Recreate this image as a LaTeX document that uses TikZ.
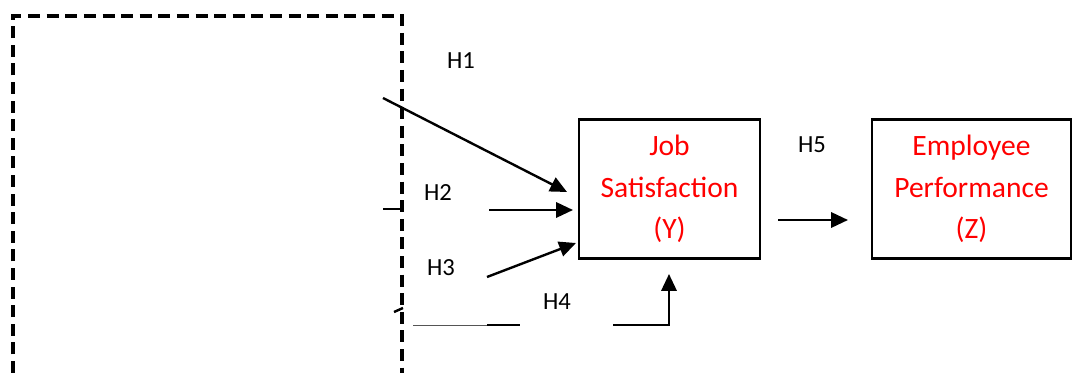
\documentclass[tikz,border=0pt]{standalone}
\usepackage{fontspec}
\setmainfont{Carlito}
\usetikzlibrary{arrows.meta}
\definecolor{mRed}{HTML}{FF0000}
\definecolor{mGrey}{HTML}{555555}
\begin{document}
\begin{tikzpicture}[x=0.025cm, y=-0.025cm, line width=1.7pt,
  varbox/.style={draw, line width=1.6pt, text=mRed, align=center, inner sep=0pt, font=\fontsize{21}{29.5}\selectfont},
  hlab/.style={font=\fontsize{17.5}{20}\selectfont},
  arr/.style={-{Triangle[length=0.42cm, width=0.38cm]}}]
\useasboundingbox (0,0) rectangle (1072,373);
\draw[line width=2.2pt, dash pattern=on 0.3cm off 0.165cm] (13,373) -- (13,16) -- (402,16) -- (402,373);
\node[varbox, minimum width=4.525cm, minimum height=3.475cm] (job) at (669.5,189) {Job\\Satisfaction\\(Y)};
\node[varbox, minimum width=4.975cm, minimum height=3.475cm] (perf) at (971.5,189) {Employee\\Performance\\(Z)};
\node[hlab] (lh1) at (461,61) {H1};
\node[hlab] (lh2) at (438,193) {H2};
\node[hlab] (lh3) at (441,268) {H3};
\node[hlab] (lh4) at (557,302) {H4};
\node[hlab] (lh5) at (812,145) {H5};
\coordinate (h1a) at (383,98);
\coordinate (h1b) at (567,192);
\coordinate (t2a) at (383,209);
\coordinate (t2b) at (402,209);
\coordinate (h2a) at (489,210);
\coordinate (h2b) at (573,210);
\coordinate (h3a) at (487,277);
\coordinate (h3b) at (576,243);
\coordinate (t4a) at (394,312);
\coordinate (t4b) at (403,308);
\coordinate (h4a) at (413,325);
\coordinate (h4b) at (487,325);
\coordinate (h4c) at (520,325);
\coordinate (h4d) at (613,325);
\coordinate (h4e) at (669,325);
\coordinate (h4f) at (669,274);
\coordinate (h5a) at (778,220);
\coordinate (h5b) at (848,220);
\draw[arr] (h1a) -- (h1b);
\draw (t2a) -- (t2b);
\draw[arr] (h2a) -- (h2b);
\draw[arr] (h3a) -- (h3b);
\draw (t4a) -- (t4b);
\draw[mGrey, line width=0.7pt] (h4a) -- (h4b);
\draw (h4b) -- (h4c);
\draw[arr] (h4d) -- (h4e) -- (h4f);
\draw[arr] (h5a) -- (h5b);
\end{tikzpicture}
\end{document}
